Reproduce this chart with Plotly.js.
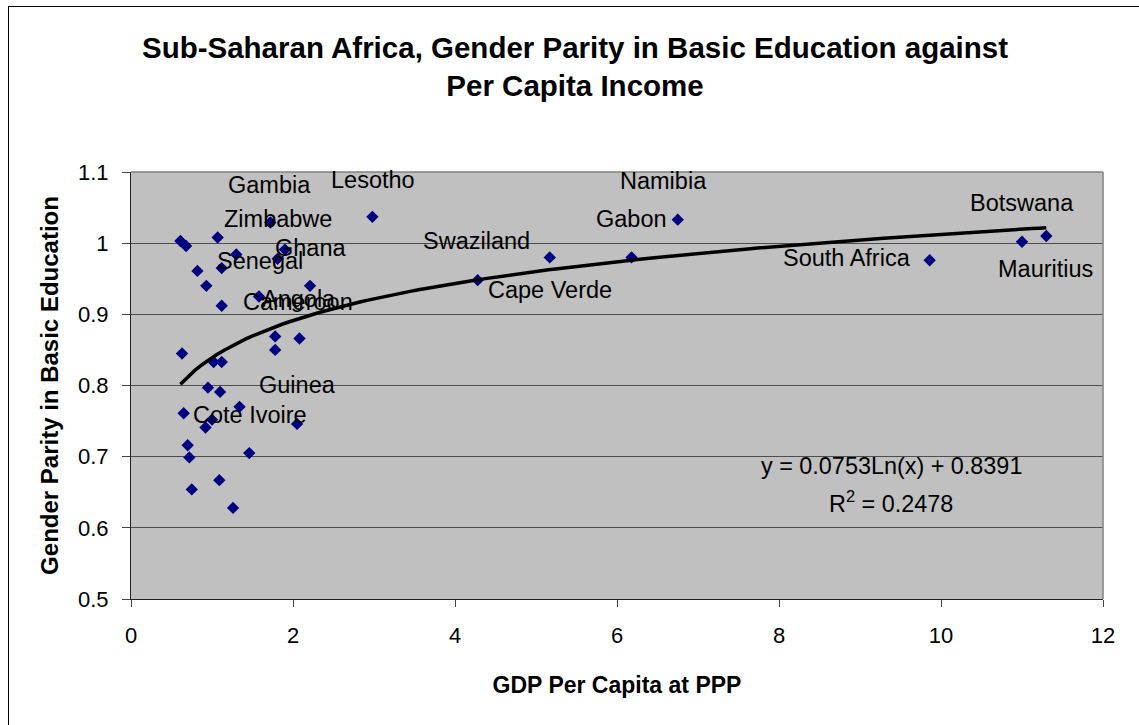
<!DOCTYPE html>
<html>
<head>
<meta charset="utf-8">
<script src="https://cdn.plot.ly/plotly-3.0.1.min.js"></script>
<style>
  html, body { margin: 0; padding: 0; background: #fff; overflow: hidden; width: 1139px; height: 725px; }
  #frame { position: absolute; left: 8px; top: 6px; width: 1200px; height: 800px; border: 1px solid #000; }
  #chart { position: absolute; left: 0; top: 0; width: 1130px; height: 718px; }
</style>
</head>
<body>
<div id="frame"><div id="chart"></div></div>
<script>
// ---- Data ----
const gdpPerCapita = [0.61, 0.68, 1.07, 1.72, 1.90, 1.30, 1.81, 1.12, 0.82, 0.93,
                      2.21, 1.58, 1.12, 1.78, 2.08, 1.78, 0.63, 1.02, 1.12, 0.95,
                      1.10, 0.65, 1.34, 1.00, 0.92, 2.05, 0.70, 0.72, 1.46, 1.09,
                      0.75, 1.26, 2.98, 4.28, 5.17, 6.18, 6.75, 9.86, 11.00, 11.30];
const genderParity = [1.003, 0.996, 1.008, 1.029, 0.991, 0.984, 0.978, 0.965, 0.961, 0.940,
                      0.940, 0.925, 0.912, 0.869, 0.866, 0.850, 0.845, 0.833, 0.833, 0.797,
                      0.791, 0.761, 0.770, 0.752, 0.741, 0.746, 0.716, 0.699, 0.705, 0.667,
                      0.654, 0.628, 1.037, 0.948, 0.980, 0.980, 1.033, 0.976, 1.002, 1.010];
const countryLabels = ["", "", "Gambia", "Zimbabwe", "Ghana", "Senegal", "", "", "", "",
                       "Cameroon", "Angola", "", "", "", "", "", "", "", "",
                       "", "", "", "Cote Ivoire", "", "Guinea", "", "", "", "",
                       "", "", "Lesotho", "Cape Verde", "Swaziland", "Namibia", "Gabon", "South Africa", "Mauritius", "Botswana"];
const trendSlope = 0.0753;
const trendIntercept = 0.8391;
const rSquared = 0.2478;
const xTicks = [0, 2, 4, 6, 8, 10, 12];
const yTicks = [0.5, 0.6, 0.7, 0.8, 0.9, 1.0, 1.1];

// ---- Label placement (pixel offsets from each labelled point) ----
const labelOffsets = {
  "Gambia": [52, 52], "Zimbabwe": [8, 4], "Ghana": [26, 2], "Senegal": [24, -6],
  "Angola": [40, -2], "Cameroon": [-12, -16], "Guinea": [0, 39], "Cote Ivoire": [38, 5],
  "Lesotho": [1, 37], "Swaziland": [-73, 16], "Cape Verde": [72, -10], "Gabon": [-46, 1],
  "Namibia": [32, 76], "South Africa": [-83, 2], "Botswana": [-24, 33], "Mauritius": [23, -27]
};

// Logarithmic trendline from the displayed fit, across the data range
const xMin = Math.min(...gdpPerCapita), xMax = Math.max(...gdpPerCapita);
const trendX = [], trendY = [];
for (let i = 0; i <= 120; i++) {
  const x = xMin + (xMax - xMin) * i / 120;
  trendX.push(x);
  trendY.push(trendSlope * Math.log(x) + trendIntercept);
}

const FONT = "Arial, 'Liberation Sans', sans-serif";

const traces = [
  {
    x: gdpPerCapita, y: genderParity, type: 'scatter', mode: 'markers',
    marker: { symbol: 'diamond', color: '#000080', size: 9.5 },
    hoverinfo: 'x+y', showlegend: false, cliponaxis: false
  },
  {
    x: trendX, y: trendY, type: 'scatter', mode: 'lines',
    line: { color: '#000000', width: 3.5 }, hoverinfo: 'skip', showlegend: false
  }
];

const annotations = [];
countryLabels.forEach((name, i) => {
  if (!name) return;
  const off = labelOffsets[name] || [0, 0];
  annotations.push({
    x: gdpPerCapita[i], y: genderParity[i], xref: 'x', yref: 'y',
    text: name, showarrow: false, xanchor: 'center', yanchor: 'middle',
    xshift: off[0], yshift: off[1],
    font: { family: FONT, size: 23.5, color: '#000' }
  });
});
annotations.push({
  xref: 'paper', yref: 'paper', x: 0.782, y: 0.311, xanchor: 'center', yanchor: 'middle',
  text: 'y = ' + trendSlope.toFixed(4) + 'Ln(x) + ' + trendIntercept.toFixed(4),
  showarrow: false, font: { family: FONT, size: 23.4, color: '#000' }
});
annotations.push({
  xref: 'paper', yref: 'paper', x: 0.782, y: 0.227, xanchor: 'center', yanchor: 'middle',
  text: 'R<sup>2</sup> = ' + rSquared.toFixed(4),
  showarrow: false, font: { family: FONT, size: 23.4, color: '#000' }
});

const layout = {
  width: 1130, height: 718,
  margin: { l: 122, r: 36, t: 165, b: 126, pad: 0 },
  paper_bgcolor: 'rgba(0,0,0,0)',
  plot_bgcolor: '#c0c0c0',
  font: { family: FONT, color: '#000' },
  title: {
    text: 'Sub-Saharan Africa, Gender Parity in Basic Education against<br>Per Capita Income',
    font: { family: FONT, size: 29.5, weight: 'bold', color: '#000' },
    x: 0.5009, xref: 'container', xanchor: 'center',
    y: 0.929, yref: 'container', yanchor: 'middle'
  },
  xaxis: {
    range: [0, 12], tickvals: xTicks, ticktext: xTicks.map(String),
    showgrid: false, zeroline: false,
    showline: true, linecolor: '#222', linewidth: 1,
    ticks: 'outside', ticklen: 7, tickcolor: '#444', tickwidth: 1,
    ticklabelstandoff: 10,
    tickfont: { family: FONT, size: 22, color: '#000' },
    title: { text: 'GDP Per Capita at PPP', font: { family: FONT, size: 23, weight: 'bold', color: '#000' }, standoff: 29 },
    automargin: false, fixedrange: true
  },
  yaxis: {
    range: [0.5, 1.1], tickvals: yTicks, ticktext: yTicks.map(v => (v === 1 ? '1' : v.toFixed(1))),
    showgrid: true, gridcolor: '#4d4d4d', gridwidth: 1,
    zeroline: false,
    showline: true, linecolor: '#222', linewidth: 1,
    ticks: 'outside', ticklen: 8, tickcolor: '#444', tickwidth: 1,
    ticklabelstandoff: 9,
    tickfont: { family: FONT, size: 22, color: '#000' },
    title: { text: 'Gender Parity in Basic Education', font: { family: FONT, size: 24, weight: 'bold', color: '#000' }, standoff: 12 },
    automargin: false, fixedrange: true
  },
  shapes: [
    { type: 'line', xref: 'paper', yref: 'paper', x0: 0, x1: 1, y0: 1, y1: 1, line: { color: '#808080', width: 1.5 }, layer: 'above' },
    { type: 'line', xref: 'paper', yref: 'paper', x0: 1, x1: 1, y0: 0, y1: 1, line: { color: '#808080', width: 1.5 }, layer: 'above' }
  ],
  annotations: annotations
};

Plotly.newPlot('chart', traces, layout, { displayModeBar: false, staticPlot: true });
</script>
</body>
</html>
